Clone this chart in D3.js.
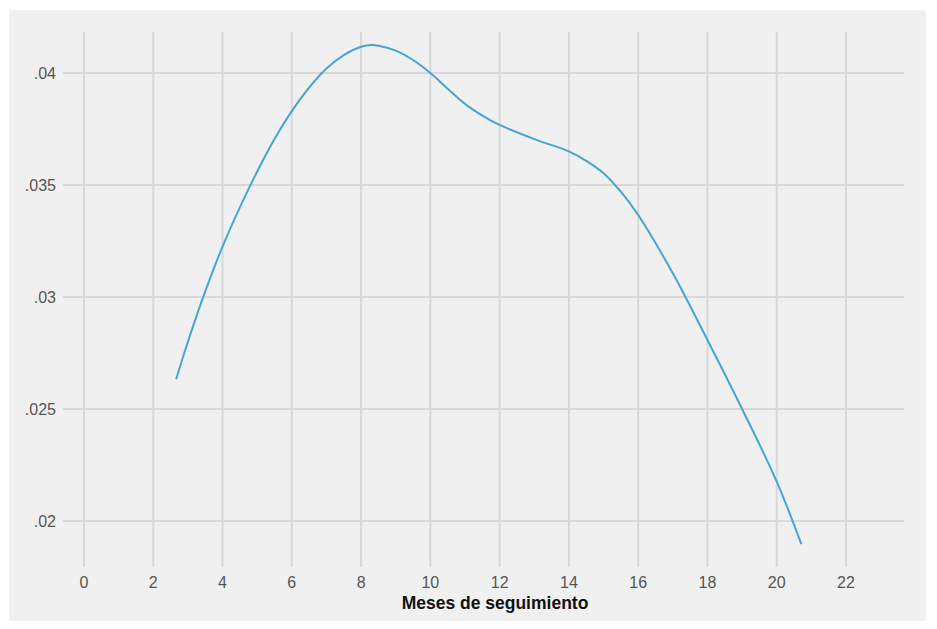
<!DOCTYPE html>
<html>
<head>
<meta charset="utf-8">
<script src="https://cdn.jsdelivr.net/npm/d3@7"></script>
<style>
  html, body { margin: 0; padding: 0; background: #ffffff; }
  svg { display: block; }
</style>
</head>
<body>
<svg id="chart" width="937" height="629"></svg>
<script>
// Data
const months = [2.66, 3, 3.5, 4, 4.5, 5, 5.5, 6, 6.5, 7, 7.5, 8, 8.3, 8.5, 9, 9.5, 10, 10.5, 11, 11.5, 12, 13, 14, 14.5, 15, 15.5, 16, 17, 18, 19, 20, 20.71];
const density = [0.02633, 0.0280, 0.03025, 0.03225, 0.0340, 0.0356, 0.03705, 0.0383, 0.03935, 0.0402, 0.0408, 0.04117, 0.04125, 0.04122, 0.0410, 0.04058, 0.0400, 0.0393, 0.03862, 0.0381, 0.03768, 0.03705, 0.0365, 0.03608, 0.03553, 0.0347, 0.03366, 0.03106, 0.02808, 0.0250, 0.02176, 0.01897];
const xTicks = [0, 2, 4, 6, 8, 10, 12, 14, 16, 18, 20, 22];
const yTicks = [0.02, 0.025, 0.03, 0.035, 0.04];
const yTickLabels = [".02", ".025", ".03", ".035", ".04"];
const xTitle = "Meses de seguimiento";

const svg = d3.select("#chart");
const W = 937, H = 629;

// panel
svg.append("rect").attr("x", 0).attr("y", 0).attr("width", W).attr("height", H).attr("fill", "#ffffff");
svg.append("rect").attr("x", 9).attr("y", 10).attr("width", 917).attr("height", 611).attr("fill", "#f0f0f0");

const x = d3.scaleLinear().domain([0, 22]).range([84, 846]);
const y = d3.scaleLinear().domain([0.02, 0.04]).range([521, 73]);

const gridColor = "#d8d8d8";
const font = "'Liberation Sans', Arial, Helvetica, sans-serif";

// horizontal grid
svg.append("g").selectAll("line").data(yTicks).join("line")
  .attr("x1", 63).attr("x2", 904)
  .attr("y1", d => y(d)).attr("y2", d => y(d))
  .attr("stroke", gridColor).attr("stroke-width", 2);

// vertical grid
svg.append("g").selectAll("line").data(xTicks).join("line")
  .attr("x1", d => x(d)).attr("x2", d => x(d))
  .attr("y1", 32).attr("y2", 567)
  .attr("stroke", gridColor).attr("stroke-width", 2);

// y tick labels
svg.append("g").selectAll("text").data(yTicks).join("text")
  .attr("x", 56).attr("y", d => y(d) + 6)
  .attr("text-anchor", "end")
  .attr("font-family", font).attr("font-size", 16).attr("fill", "#555555")
  .text((d, i) => yTickLabels[i]);

// x tick labels
svg.append("g").selectAll("text").data(xTicks).join("text")
  .attr("x", d => x(d)).attr("y", 588)
  .attr("text-anchor", "middle")
  .attr("font-family", font).attr("font-size", 16).attr("fill", "#555555")
  .text(d => d);

// x title
svg.append("text")
  .attr("x", 495).attr("y", 609)
  .attr("text-anchor", "middle")
  .attr("font-family", font).attr("font-size", 17.5).attr("font-weight", "bold").attr("fill", "#111111")
  .text(xTitle);

// curve
const pts = months.map((m, i) => [m, density[i]]);
const line = d3.line().x(d => x(d[0])).y(d => y(d[1])).curve(d3.curveCatmullRom.alpha(0.5));
svg.append("path").datum(pts)
  .attr("d", line)
  .attr("fill", "none")
  .attr("stroke", "#45a5d6")
  .attr("stroke-width", 2);
</script>
</body>
</html>
